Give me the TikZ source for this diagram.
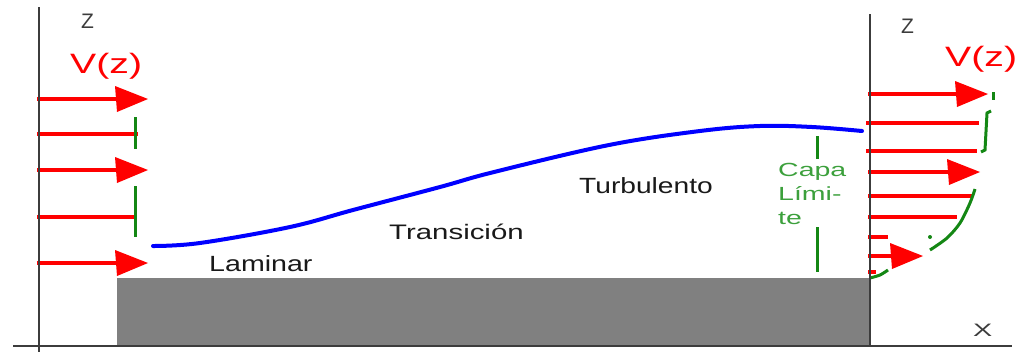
\documentclass[tikz,border=0pt]{standalone}
\usepackage{fontspec}
\setmainfont{Liberation Sans}
\usepackage{graphicx}
\definecolor{vred}{RGB}{255,0,0}
\definecolor{lgreen}{RGB}{20,135,20}
\definecolor{tgreen}{RGB}{60,160,60}
\definecolor{bblue}{RGB}{0,0,255}
\definecolor{plate}{RGB}{128,128,128}
\definecolor{axisc}{RGB}{60,60,60}
\definecolor{txt}{RGB}{25,25,25}
\newcommand{\hx}[2]{\scalebox{#1}[1]{#2}}
\newcommand{\vhead}[2]{\fill[vred] (#1-33,#2-13) -- (#1,#2) -- (#1-31,#2+13) -- cycle;}
\begin{document}
\begin{tikzpicture}[x=1pt,y=-1pt,
  lbl/.style={inner sep=0pt,anchor=base west},
  vel/.style={line width=4pt,vred},
  gl/.style={line width=3pt,lgreen},
  axisline/.style={line width=2pt,axisc},
  flow/.style={line width=4pt,bblue,line cap=round}]
\useasboundingbox (0,0) rectangle (1019,354);
% plate
\fill[plate] (117,278) rectangle (870,346);
% left profile
\draw[vel] (37,99) -- (117,99); \vhead{148}{99}
\draw[vel] (37,134) -- (138,134);
\draw[vel] (37,170) -- (118,170); \vhead{148}{170}
\draw[vel] (37,217) -- (134,217);
\draw[vel] (37,263) -- (118,263); \vhead{148}{263}
\draw[gl] (135,117) -- (135,149);
\draw[gl] (135,186) -- (135,237);
% right profile
\draw[vel] (868,94) -- (957,94); \vhead{988}{94}
\draw[vel] (866,123) -- (979,123);
\draw[vel] (866,151) -- (977,151);
\draw[vel] (868,172) -- (950,172); \vhead{980}{172}
\draw[vel] (868,196) -- (972,196);
\draw[vel] (868,217) -- (957,217);
\draw[vel] (868,237) -- (888,237);
\draw[vel] (868,256) -- (895,256); \vhead{923}{256}
\draw[vel] (868,272) -- (876,272);
\draw[gl] (993,92) -- (993,100);
\draw[gl] (991,111) -- (987,113) -- (985,150) -- (981,152);
\draw[gl] plot[smooth] coordinates {(975,189) (970,203) (960,223) (947,238) (930,250)};
\fill[lgreen] (930,237) circle (2);
\draw[gl] plot[smooth] coordinates {(870,278) (880,275) (888,270)};
% axes
\draw[axisline] (39,7) -- (39,352);
\draw[axisline] (870,14) -- (870,346);
\draw[axisline] (13,346) -- (1012,346);
% boundary layer
\draw[flow] plot[smooth,tension=0.6] coordinates {(153,246) (200,243) (290,227) (353,210) (440,187) (494,172) (609,145) (700,131) (760,126) (812,127) (862,131)};
\draw[gl] (817,136) -- (817,159);
\draw[gl] (817,227) -- (817,272);
% labels
\node[lbl,axisc] (zl) at (81,28) {\fontsize{21}{21}\selectfont Z};
\node[lbl,axisc] (zr) at (901,33) {\fontsize{21}{21}\selectfont Z};
\node[lbl,axisc] (xr) at (973,336) {\fontsize{18}{18}\selectfont\hx{1.6}{X}};
\node[lbl,vred] (vl) at (70,73) {\fontsize{28}{28}\selectfont\hx{1.4}{V(z)}};
\node[lbl,vred] (vr) at (945,66) {\fontsize{28}{28}\selectfont\hx{1.4}{V(z)}};
\node[lbl,txt] (lam) at (209,271) {\fontsize{22}{22}\selectfont\hx{1.3}{Laminar}};
\node[lbl,txt] (tra) at (389,239) {\fontsize{21}{21}\selectfont\hx{1.4}{Transición}};
\node[lbl,txt] (tur) at (579,193) {\fontsize{22}{22}\selectfont\hx{1.28}{Turbulento}};
\node[lbl,tgreen] (cl1) at (778,176) {\fontsize{19}{19}\selectfont\hx{1.5}{Capa}};
\node[lbl,tgreen] (cl2) at (778,200) {\fontsize{19}{19}\selectfont\hx{1.5}{Lími-}};
\node[lbl,tgreen] (cl3) at (778,224) {\fontsize{19}{19}\selectfont\hx{1.5}{te}};
\end{tikzpicture}
\end{document}
